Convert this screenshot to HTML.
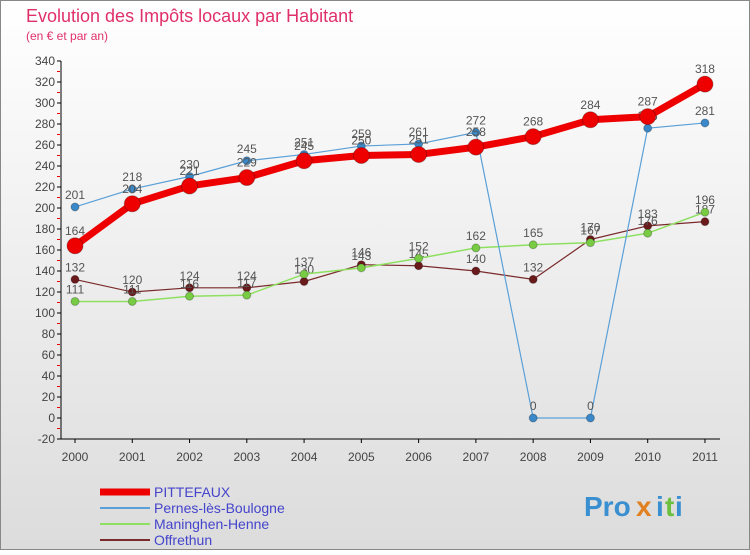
<!DOCTYPE html>
<html><head><meta charset="utf-8"><style>
body{margin:0;width:750px;height:550px;overflow:hidden;font-family:"Liberation Sans",sans-serif;}
</style></head><body>
<svg width="750" height="550" xmlns="http://www.w3.org/2000/svg">
<defs><linearGradient id="bg" x1="0" y1="0" x2="0" y2="1"><stop offset="0" stop-color="#ffffff"/><stop offset="1" stop-color="#dcdcdc"/></linearGradient></defs>
<rect x="0.5" y="0.5" width="749" height="549" fill="url(#bg)" stroke="#888"/>
<text x="26" y="22" font-size="18" fill="#e0306a">Evolution des Impôts locaux par Habitant</text>
<text x="26" y="40" font-size="12" fill="#e0306a">(en € et par an)</text>
<g id="axes"></g><g id="series"></g><g id="legend"></g>
<g font-size="28" font-weight="bold">
<text x="584" y="516" fill="#3a8fd0">Pro</text><text x="636" y="516" fill="#e08020">x</text><text x="656" y="516" fill="#3a8fd0">i</text><text x="665" y="516" fill="#6cc040">t</text><text x="675" y="516" fill="#3a8fd0">i</text>
</g>
</svg>
<script>
const years=['2000','2001','2002','2003','2004','2005','2006','2007','2008','2009','2010','2011'];
const yTicks=[-20,0,20,40,60,80,100,120,140,160,180,200,220,240,260,280,300,320,340];
const pittefaux=[164,204,221,229,245,250,251,258,268,284,287,318];
const pernes=[201,218,230,245,251,259,261,272,0,0,276,281];
const maninghen=[111,111,116,117,137,143,152,162,165,167,176,196];
const offrethun=[132,120,124,124,130,146,145,140,132,170,183,187];
const NS='http://www.w3.org/2000/svg';
const X=i=>75+i*57.27;
const Y=v=>439-(v+20)*1.05;
function mk(tag,attrs,parent,txt){const e=document.createElementNS(NS,tag);for(const k in attrs)e.setAttribute(k,attrs[k]);if(txt!==undefined)e.textContent=txt;parent.appendChild(e);return e;}
const ax=document.getElementById('axes');
const yl=mk('line',{x1:61,y1:Y(340),x2:61,y2:Y(-20),stroke:'#000'},ax);


const xl=mk('line',{x1:61,y1:Y(-20),x2:720,y2:Y(-20),stroke:'#000'},ax);


yTicks.forEach(v=>{
 mk('line',{x1:57,y1:Y(v),x2:61,y2:Y(v),stroke:'#000'},ax);
 if(v<340) mk('line',{x1:57,y1:Y(v+10),x2:60,y2:Y(v+10),stroke:'#e00'},ax);
 const t=mk('text',{x:55,y:Y(v)+4,'font-size':12,'text-anchor':'end',fill:'#444'},ax,String(v));
 
 
});
years.forEach((y,i)=>{
 mk('line',{x1:X(i),y1:Y(-20),x2:X(i),y2:Y(-20)+4,stroke:'#000'},ax);
 const t=mk('text',{x:X(i),y:Y(-20)+22,'font-size':12,'text-anchor':'middle',fill:'#444'},ax,y);
 
 
});
const sg=document.getElementById('series');
function draw(data,color,w,r,name,dot){
 const g=mk('g',{},sg);
 
 
 mk('polyline',{points:data.map((v,i)=>X(i)+','+Y(v)).join(' '),fill:'none',stroke:color,'stroke-width':w,'stroke-linejoin':'round'},g);
 data.forEach((v,i)=>{
  const c=mk('circle',{cx:X(i),cy:Y(v),r:r,fill:dot,stroke:'rgba(0,0,0,0.25)'},g);
  
  
  mk('text',{x:X(i),y:Y(v)-8-(r>5?3:0),'font-size':12,'text-anchor':'middle',fill:'#555'},g,String(v));
 });
}
draw(offrethun,'#7a2a2a',1.2,4,'series-offrethun','#6a1a1a');
draw(maninghen,'#8ee060',1.5,4,'series-maninghen-henne','#77cc44');
draw(pernes,'#5aa0d8',1.2,4,'series-pernes-les-boulogne','#3a88c8');
draw(pittefaux,'#ee0000',7,8,'series-pittefaux','#ee0000');
const lg=document.getElementById('legend');
const items=[['PITTEFAUX','#ee0000',7],['Pernes-lès-Boulogne','#5aa0d8',2],['Maninghen-Henne','#8ee060',2],['Offrethun','#7a2a2a',2]];
items.forEach((it,i)=>{
 const g=mk('g',{},lg);
 
 
 const y=492+i*16;
 mk('line',{x1:100,y1:y,x2:150,y2:y,stroke:it[1],'stroke-width':it[2]},g);
 mk('text',{x:154,y:y+5,'font-size':14,fill:'#4444cc'},g,it[0]);
});
</script>
</body></html>
